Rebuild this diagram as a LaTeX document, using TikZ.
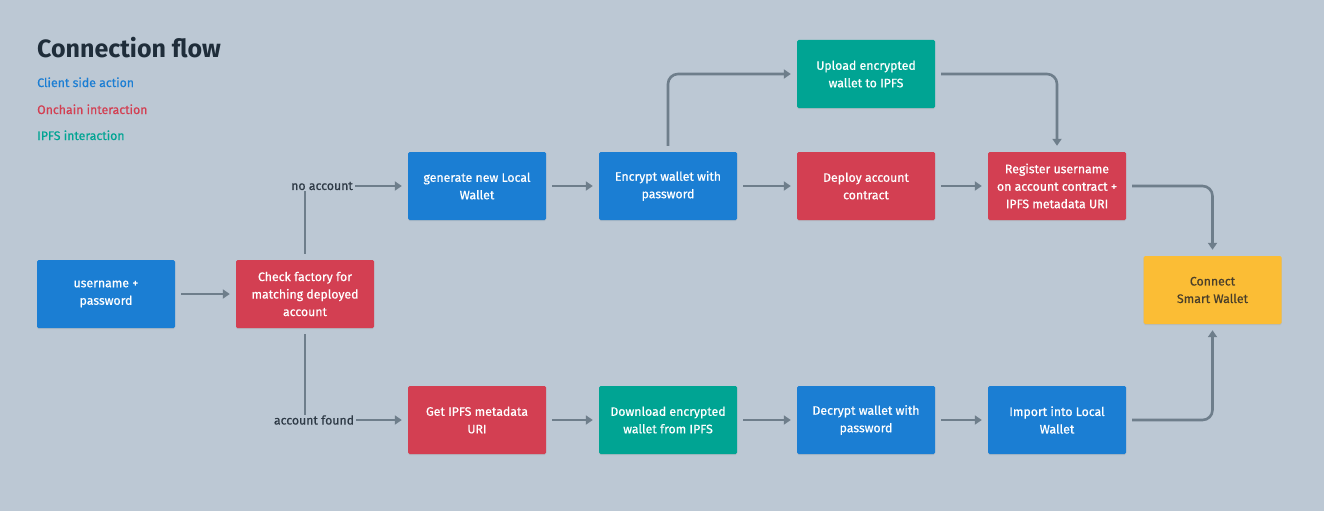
\documentclass[tikz,border=0pt]{standalone}
\usepackage{fontspec}
\setmainfont{Fira Sans}
\newfontfamily\medfont{Fira Sans}[FakeBold=0.6]
\usetikzlibrary{arrows.meta,shadows}
\definecolor{bg}{HTML}{BCC8D4}
\definecolor{cblue}{HTML}{1B7ED3}
\definecolor{cred}{HTML}{D33F52}
\definecolor{cteal}{HTML}{00A493}
\definecolor{cyellow}{HTML}{FBBD35}
\definecolor{ctitle}{HTML}{1F2D3A}
\definecolor{cline}{HTML}{6E7E8B}
\definecolor{clabel}{HTML}{2E3A46}
\definecolor{cdark}{HTML}{4A3F2A}
\tikzset{
  box/.style={minimum width=138pt, minimum height=68pt, inner sep=0pt, align=center,
    rounded corners=1.5pt, text=white, font=\medfont\fontsize{12.3}{17.5}\selectfont,
    drop shadow={opacity=0.18, shadow xshift=0pt, shadow yshift=-1pt}},
  bluebox/.style={box, fill=cblue},
  redbox/.style={box, fill=cred},
  tealbox/.style={box, fill=cteal},
  yellowbox/.style={box, fill=cyellow, text=cdark},
  conn/.style={draw=cline, line width=2.6pt, -{Triangle[length=7pt,width=9pt]},
    shorten >=6pt, shorten <=6pt, rounded corners=10pt},
  plain/.style={draw=cline, line width=2.6pt, shorten <=6pt},
  lbl/.style={text=clabel, font=\medfont\fontsize{12.3}{14}\selectfont, inner sep=1pt},
  legend/.style={anchor=base west, inner sep=0pt, font=\medfont\fontsize{12.3}{14}\selectfont}
}
\begin{document}
\begin{tikzpicture}[x=1pt,y=-1pt]
\fill[bg] (0,0) rectangle (1324,511);
\useasboundingbox (0,0) rectangle (1324,511);
% title and legend
\node[anchor=base west, inner sep=0pt, text=ctitle, font=\fontsize{25}{30}\selectfont\bfseries] (title) at (37,57) {Connection flow};
\node[legend, text=cblue] (lg1) at (37,87) {Client side action};
\node[legend, text=cred] (lg2) at (37,114) {Onchain interaction};
\node[legend, text=cteal] (lg3) at (37,140) {IPFS interaction};
% boxes
\node[bluebox] (user) at (106,294) {username +\\password};
\node[redbox] (check) at (305,294) {Check factory for\\matching deployed\\account};
\node[bluebox] (gen) at (477,186) {generate new Local\\Wallet};
\node[bluebox] (enc) at (668,186) {Encrypt wallet with\\password};
\node[tealbox] (upl) at (866,74) {Upload encrypted\\wallet to IPFS};
\node[redbox] (dep) at (866,186) {Deploy account\\contract};
\node[redbox] (reg) at (1057,186) {Register username\\on account contract +\\IPFS metadata URI};
\node[yellowbox] (con) at (1212.5,290) {Connect\\Smart Wallet};
\node[redbox] (get) at (477,420) {Get IPFS metadata\\URI};
\node[tealbox] (dl) at (668,420) {Download encrypted\\wallet from IPFS};
\node[bluebox] (dec) at (866,420) {Decrypt wallet with\\password};
\node[bluebox] (imp) at (1057,420) {Import into Local\\Wallet};
% branch labels
\node[lbl] (na) at (322,186) {no account};
\node[lbl] (af) at (314,420) {account found};
% connectors
\draw[conn] (user) -- (check);
\draw[plain] (check.north) -- (check.north |- na.south);
\draw[conn, shorten <=1pt] (na.east) -- (gen.west);
\draw[plain] (check.south) -- ([yshift=-1pt]check.south |- af.north);
\draw[conn, shorten <=1pt] (af.east) -- (get.west);
\draw[conn] (gen) -- (enc);
\draw[conn] (enc.north) |- (upl.west);
\draw[conn] (enc) -- (dep);
\draw[conn] (upl.east) -| (reg.north);
\draw[conn] (dep) -- (reg);
\draw[conn] (reg.east) -| (con.north);
\draw[conn] (get) -- (dl);
\draw[conn] (dl) -- (dec);
\draw[conn] (dec) -- (imp);
\draw[conn] (imp.east) -| (con.south);
\end{tikzpicture}
\end{document}
